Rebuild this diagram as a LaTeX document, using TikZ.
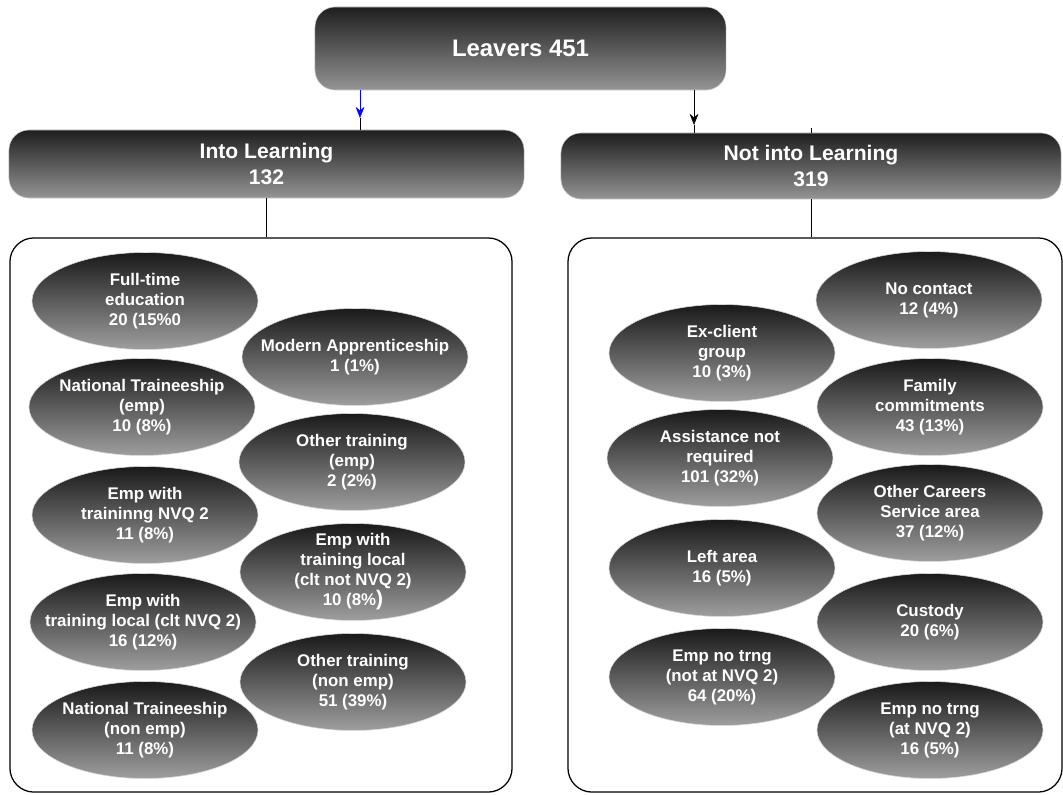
\documentclass[tikz,border=0pt]{standalone}
\usepackage{fontspec}
\setmainfont{Liberation Sans}
\usetikzlibrary{shapes.geometric,arrows.meta}

\tikzset{
  headbox/.style={rectangle,rounded corners=0.5cm,top color=black!88,bottom color=black!42,
    draw=black!20,text=white,align=center,inner sep=0pt},
  panel/.style={rectangle,rounded corners=0.6cm,draw=black,line width=0.9pt,fill=white,inner sep=0pt},
  leaf/.style={ellipse,minimum width=5.65cm,minimum height=2.425cm,inner xsep=-16pt,inner ysep=-10pt,
    top color=black!90,bottom color=black!38,draw=black!15,text=white,align=center,
    font=\fontsize{12}{14.2}\selectfont\bfseries},
  tip/.style={-{Stealth[length=0.28cm,width=0.22cm]}}
}

\begin{document}
\begin{tikzpicture}[x=0.025cm,y=-0.025cm]
\useasboundingbox (0,0) rectangle (1063,794);

%TOP
  \node (leavers) at (520.5,48.5) [headbox,minimum width=10.275cm,minimum height=2.075cm,
    font=\fontsize{17}{20}\selectfont\bfseries] {Leavers 451};
  \node (into) at (266.5,164) [headbox,minimum width=12.875cm,minimum height=1.7cm,
    font=\fontsize{15}{19}\selectfont\bfseries] {Into Learning\\132};
  \node (notinto) at (811,166) [headbox,minimum width=12.5cm,minimum height=1.65cm,
    font=\fontsize{15}{19}\selectfont\bfseries] {Not into Learning\\319};
  \coordinate (lt) at (360,118);
  \coordinate (rt) at (694,125);
  \draw[blue,tip] (leavers.south -| lt) -- (lt);
  \draw (lt) -- (into.north -| lt);
  \draw[tip] (leavers.south -| rt) -- (rt);
  \draw (rt) -- (notinto.north -| rt);
  \draw (notinto.north) -- ++(0,-5);

%PANELS
  \node (inpanel) at (261,515) [panel,minimum width=12.55cm,minimum height=13.85cm] {};
  \node (outpanel) at (815,515) [panel,minimum width=12.35cm,minimum height=13.85cm] {};
  \draw (into.south) -- (into.south |- inpanel.north);
  \draw (notinto.south) -- (notinto.south |- outpanel.north);

%INTO LEARNING
  \node (fte) at (145,301) [leaf] {Full-time\\education\\20 (15\%0};
  \node (modapp) at (355,357) [leaf] {Modern Apprenticeship\\1 (1\%)};
  \node (ntemp) at (142,407) [leaf] {National Traineeship\\(emp)\\10 (8\%)};
  \node (otemp) at (352,462) [leaf] {Other training\\(emp)\\2 (2\%)};
  \node (empnvq) at (145,515) [leaf] {Emp with\\traininng NVQ 2\\11 (8\%)};
  \node (emplocnot) at (353,572) [leaf] {Emp with\\training local\\(clt not NVQ 2)\\10 (8\%{\fontsize{15}{14}\selectfont)}};
  \node (emploc) at (143,622) [leaf] {Emp with\\training local (clt NVQ 2)\\16 (12\%)};
  \node (otnon) at (353,682) [leaf] {Other training\\(non emp)\\51 (39\%)};
  \node (ntnon) at (145,730) [leaf] {National Traineeship\\(non emp)\\11 (8\%)};

%NOT INTO LEARNING
  \node (nocontact) at (929,300) [leaf] {No contact\\12 (4\%)};
  \node (exclient) at (722,353) [leaf] {Ex-client\\group\\10 (3\%)};
  \node (family) at (930,407) [leaf] {Family\\commitments\\43 (13\%)};
  \node (assist) at (720,458) [leaf] {Assistance not\\required\\101 (32\%)};
  \node (othercs) at (930,513) [leaf] {Other Careers\\Service area\\37 (12\%)};
  \node (leftarea) at (722,568) [leaf] {Left area\\16 (5\%)};
  \node (custody) at (930,622) [leaf] {Custody\\20 (6\%)};
  \node (empnot) at (722,677) [leaf] {Emp no trng\\(not at NVQ 2)\\64 (20\%)};
  \node (empat) at (930,730) [leaf] {Emp no trng\\(at NVQ 2)\\16 (5\%)};
\end{tikzpicture}
\end{document}
